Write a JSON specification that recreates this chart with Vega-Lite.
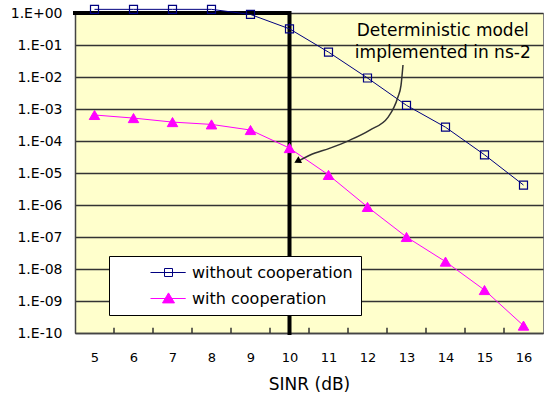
{
  "$schema": "https://vega.github.io/schema/vega-lite/v6.json",
  "autosize": "none",
  "width": 468,
  "height": 320,
  "padding": {"left": 75, "top": 13, "right": 2, "bottom": 70},
  "background": "white",
  "config": {
    "font": "DejaVu Sans",
    "view": {"stroke": "#808080", "fill": "#FFFFCC", "strokeWidth": 1},
    "legend": {
      "orient": "none",
      "legendX": 34,
      "legendY": 243,
      "fillColor": "white",
      "strokeColor": "black",
      "padding": 8,
      "symbolSize": 256,
      "symbolOffset": 25,
      "symbolStrokeWidth": 1,
      "labelOffset": 33,
      "labelLimit": 400,
      "labelFontSize": 16,
      "labelColor": "black",
      "rowPadding": 9
    }
  },
  "datasets": {
    "ber": [
      {"snr": 5, "ber": 1.3, "series": "without cooperation"},
      {"snr": 6, "ber": 1.3, "series": "without cooperation"},
      {"snr": 7, "ber": 1.3, "series": "without cooperation"},
      {"snr": 8, "ber": 1.3, "series": "without cooperation"},
      {"snr": 9, "ber": 0.9, "series": "without cooperation"},
      {"snr": 10, "ber": 0.32, "series": "without cooperation"},
      {"snr": 11, "ber": 0.06, "series": "without cooperation"},
      {"snr": 12, "ber": 0.0093, "series": "without cooperation"},
      {"snr": 13, "ber": 0.0013, "series": "without cooperation"},
      {"snr": 14, "ber": 0.00027, "series": "without cooperation"},
      {"snr": 15, "ber": 0.000037, "series": "without cooperation"},
      {"snr": 16, "ber": 0.0000042, "series": "without cooperation"},
      {"snr": 5, "ber": 0.00065, "series": "with cooperation"},
      {"snr": 6, "ber": 0.00052, "series": "with cooperation"},
      {"snr": 7, "ber": 0.00039, "series": "with cooperation"},
      {"snr": 8, "ber": 0.00033, "series": "with cooperation"},
      {"snr": 9, "ber": 0.00022, "series": "with cooperation"},
      {"snr": 10, "ber": 0.00006, "series": "with cooperation"},
      {"snr": 11, "ber": 0.0000087, "series": "with cooperation"},
      {"snr": 12, "ber": 8.7e-7, "series": "with cooperation"},
      {"snr": 13, "ber": 1e-7, "series": "with cooperation"},
      {"snr": 14, "ber": 1.7e-8, "series": "with cooperation"},
      {"snr": 15, "ber": 2.2e-9, "series": "with cooperation"},
      {"snr": 16, "ber": 1.7e-10, "series": "with cooperation"}
    ],
    "model": [
      {"i": 0, "snr": 4.5, "ber": 1},
      {"i": 1, "snr": 10, "ber": 1},
      {"i": 2, "snr": 10, "ber": 1e-10}
    ],
    "ticks": [
      {"snr": 5.5}, {"snr": 6.5}, {"snr": 7.5}, {"snr": 8.5}, {"snr": 9.5}, {"snr": 10.5},
      {"snr": 11.5}, {"snr": 12.5}, {"snr": 13.5}, {"snr": 14.5}, {"snr": 15.5}
    ],
    "curve": [
      {"i": 0, "snr": 12.91, "ber": 0.0237},
      {"i": 1, "snr": 12.86, "ber": 0.0056},
      {"i": 2, "snr": 12.78, "ber": 0.00237},
      {"i": 3, "snr": 12.53, "ber": 0.00056},
      {"i": 4, "snr": 12.06, "ber": 0.00022},
      {"i": 5, "snr": 11.55, "ber": 0.000107},
      {"i": 6, "snr": 11.04, "ber": 0.00006},
      {"i": 7, "snr": 10.53, "ber": 0.0000365},
      {"i": 8, "snr": 10.25, "ber": 0.0000245}
    ],
    "arrow": [{"snr": 10.2, "ber": 0.0000235}],
    "note": [
      {"snr": 13.93, "ber": 0.28, "text": "Deterministic model"},
      {"snr": 13.93, "ber": 0.057, "text": "implemented in ns-2"}
    ]
  },
  "layer": [
    {
      "data": {"name": "model"},
      "mark": {"type": "line", "color": "black", "strokeWidth": 4, "strokeCap": "square"},
      "encoding": {
        "x": {
          "field": "snr", "type": "quantitative",
          "scale": {"domain": [4.5, 16.5], "nice": false, "zero": false},
          "axis": {
            "title": "SINR (dB)",
            "values": [4.5, 5.5, 6.5, 7.5, 8.5, 9.5, 10.5, 11.5, 12.5, 13.5, 14.5, 15.5],
            "labelExpr": "format(datum.value + 0.5, 'd')",
            "labelOffset": 19.5,
            "labelFlush": false,
            "labelOverlap": false,
            "labelFontSize": 13,
            "labelColor": "black",
            "labelPadding": 18,
            "ticks": false,
            "tickSize": 0,
            "domainColor": "#444",
            "domainWidth": 1.5,
            "grid": false,
            "titleFontSize": 17,
            "titleFontWeight": "normal",
            "titleColor": "black",
            "titlePadding": 12
          }
        },
        "y": {
          "field": "ber", "type": "quantitative",
          "scale": {"type": "log", "domain": [1e-10, 1], "nice": false},
          "axis": {
            "title": null,
            "values": [1e-10, 1e-9, 1e-8, 1e-7, 1e-6, 1e-5, 1e-4, 1e-3, 1e-2, 1e-1, 1],
            "labelExpr": "'1.E' + (round(log(datum.value) / LN10) >= 0 ? '+' : '-') + (abs(round(log(datum.value) / LN10)) < 10 ? '0' : '') + abs(round(log(datum.value) / LN10))",
            "labelFontSize": 14,
            "labelColor": "black",
            "labelPadding": 13,
            "ticks": false,
            "tickSize": 0,
            "grid": true,
            "gridColor": "#333",
            "gridWidth": 1.5,
            "domainColor": "#444",
            "domainWidth": 1.5,
            "labelOverlap": false
          }
        },
        "order": {"field": "i", "type": "quantitative"}
      }
    },
    {
      "data": {"name": "ticks"},
      "mark": {"type": "rule", "color": "#333", "strokeWidth": 1.5},
      "encoding": {
        "x": {"field": "snr", "type": "quantitative"},
        "y": {"datum": 1e-10, "type": "quantitative"},
        "y2": {"datum": 1.45e-10}
      }
    },
    {
      "data": {"name": "ber"},
      "transform": [{"filter": "datum.series === 'without cooperation'"}],
      "mark": {"type": "line", "strokeWidth": 1, "color": "#000080"},
      "encoding": {
        "x": {"field": "snr", "type": "quantitative"},
        "y": {"field": "ber", "type": "quantitative"}
      }
    },
    {
      "data": {"name": "ber"},
      "transform": [{"filter": "datum.series === 'with cooperation'"}],
      "mark": {"type": "line", "strokeWidth": 1, "color": "#FF00FF"},
      "encoding": {
        "x": {"field": "snr", "type": "quantitative"},
        "y": {"field": "ber", "type": "quantitative"}
      }
    },
    {
      "data": {"name": "ber"},
      "transform": [{"filter": "datum.series === 'without cooperation'"}],
      "mark": {"type": "point", "shape": "square", "size": 64, "stroke": "#000080", "fill": "transparent", "strokeWidth": 1.2, "opacity": 1},
      "encoding": {
        "x": {"field": "snr", "type": "quantitative"},
        "y": {"field": "ber", "type": "quantitative"}
      }
    },
    {
      "data": {"name": "ber"},
      "transform": [{"filter": "datum.series === 'with cooperation'"}],
      "mark": {"type": "point", "shape": "triangle-up", "size": 110, "stroke": "#FF00FF", "fill": "#FF00FF", "filled": true, "strokeWidth": 1, "opacity": 1},
      "encoding": {
        "x": {"field": "snr", "type": "quantitative"},
        "y": {"field": "ber", "type": "quantitative"}
      }
    },
    {
      "data": {"name": "ber"},
      "transform": [{"filter": "datum.snr > 100"}],
      "mark": {"type": "point", "size": 256, "strokeWidth": 1, "opacity": 1},
      "encoding": {
        "x": {"field": "snr", "type": "quantitative"},
        "y": {"field": "ber", "type": "quantitative"},
        "shape": {
          "field": "series", "type": "nominal", "title": null,
          "scale": {"domain": ["without cooperation", "with cooperation"], "range": ["M0,0L4.4,0M1.75,-0.5L2.75,-0.5L2.75,0.5L1.75,0.5Z", "M0,0L4.4,0M2.25,-0.7L3.0,0.55L1.5,0.55Z"]}
        },
        "stroke": {
          "field": "series", "type": "nominal", "title": null,
          "scale": {"domain": ["without cooperation", "with cooperation"], "range": ["#000080", "#FF00FF"]}
        },
        "fill": {
          "field": "series", "type": "nominal", "title": null,
          "scale": {"domain": ["without cooperation", "with cooperation"], "range": ["transparent", "#FF00FF"]}
        }
      }
    },
    {
      "data": {"name": "curve"},
      "mark": {"type": "line", "color": "#333", "strokeWidth": 1.5, "interpolate": "monotone"},
      "encoding": {
        "x": {"field": "snr", "type": "quantitative"},
        "y": {"field": "ber", "type": "quantitative"}
      }
    },
    {
      "data": {"name": "arrow"},
      "mark": {"type": "point", "shape": "triangle-up", "filled": true, "color": "black", "size": 60, "angle": 242, "opacity": 1},
      "encoding": {
        "x": {"field": "snr", "type": "quantitative"},
        "y": {"field": "ber", "type": "quantitative"}
      }
    },
    {
      "data": {"name": "note"},
      "mark": {"type": "text", "fontSize": 17, "color": "black", "align": "center", "baseline": "middle"},
      "encoding": {
        "x": {"field": "snr", "type": "quantitative"},
        "y": {"field": "ber", "type": "quantitative"},
        "text": {"field": "text"}
      }
    }
  ]
}
